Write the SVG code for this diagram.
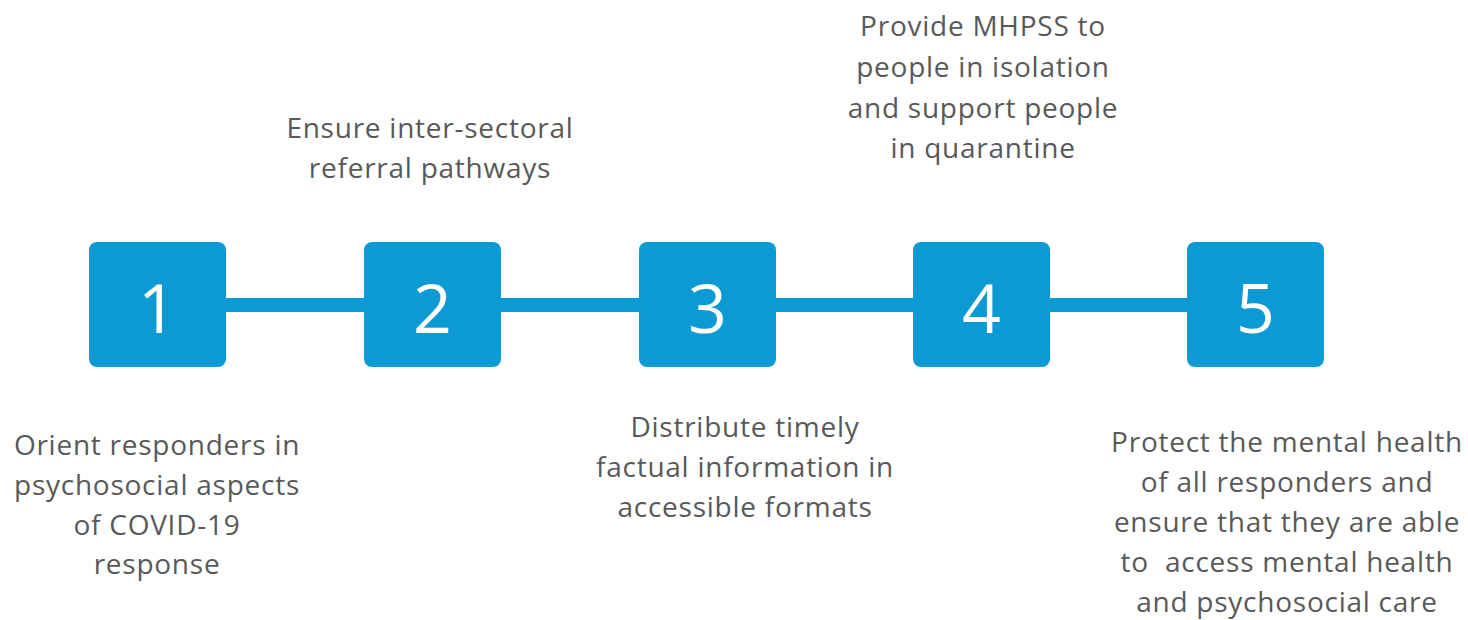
<svg xmlns="http://www.w3.org/2000/svg" width="1468" height="620" viewBox="0 0 1468 620">
<style>
.box{fill:#0b9ad3}
.num{font-family:"Open Sans","Liberation Sans",Arial,sans-serif;font-size:68px;fill:#ffffff;text-anchor:middle}
.lbl{font-family:"Open Sans","Liberation Sans",Arial,sans-serif;font-size:28px;letter-spacing:0.75px;fill:#595959;text-anchor:middle}
.conn{stroke:#0b9ad3;stroke-width:14;fill:none}
</style>
<rect width="1468" height="620" fill="#ffffff"/>
<g id="connectors">
<line class="conn" x1="226" y1="305" x2="364" y2="305"/>
<line class="conn" x1="501" y1="305" x2="639" y2="305"/>
<line class="conn" x1="776" y1="305" x2="913" y2="305"/>
<line class="conn" x1="1050" y1="305" x2="1187" y2="305"/>
</g>
<g id="node1">
<rect class="box" x="89" y="242" width="137" height="125" rx="8"/>
<text class="num" x="157.5" y="333">1</text>
<text class="lbl"><tspan x="157" y="455">Orient responders in</tspan><tspan x="157" y="495">psychosocial aspects</tspan><tspan x="157" y="535">of COVID-19</tspan><tspan x="157" y="574">response</tspan></text>
</g>
<g id="node2">
<rect class="box" x="364" y="242" width="137" height="125" rx="8"/>
<text class="num" x="432.5" y="333">2</text>
<text class="lbl"><tspan x="430" y="138">Ensure inter-sectoral</tspan><tspan x="430" y="178">referral pathways</tspan></text>
</g>
<g id="node3">
<rect class="box" x="639" y="242" width="137" height="125" rx="8"/>
<text class="num" x="707.5" y="333">3</text>
<text class="lbl"><tspan x="745" y="437">Distribute timely</tspan><tspan x="745" y="477">factual information in</tspan><tspan x="745" y="517">accessible formats</tspan></text>
</g>
<g id="node4">
<rect class="box" x="913" y="242" width="137" height="125" rx="8"/>
<text class="num" x="981.5" y="333">4</text>
<text class="lbl"><tspan x="983" y="36">Provide MHPSS to</tspan><tspan x="983" y="77">people in isolation</tspan><tspan x="983" y="118">and support people</tspan><tspan x="983" y="158">in quarantine</tspan></text>
</g>
<g id="node5">
<rect class="box" x="1187" y="242" width="137" height="125" rx="8"/>
<text class="num" x="1255.5" y="333">5</text>
<text class="lbl"><tspan x="1287" y="452">Protect the mental health</tspan><tspan x="1287" y="492">of all responders and</tspan><tspan x="1287" y="532">ensure that they are able</tspan><tspan x="1287" y="572" xml:space="preserve" style="white-space:pre">to  access mental health</tspan><tspan x="1287" y="612">and psychosocial care</tspan></text>
</g>
</svg>
